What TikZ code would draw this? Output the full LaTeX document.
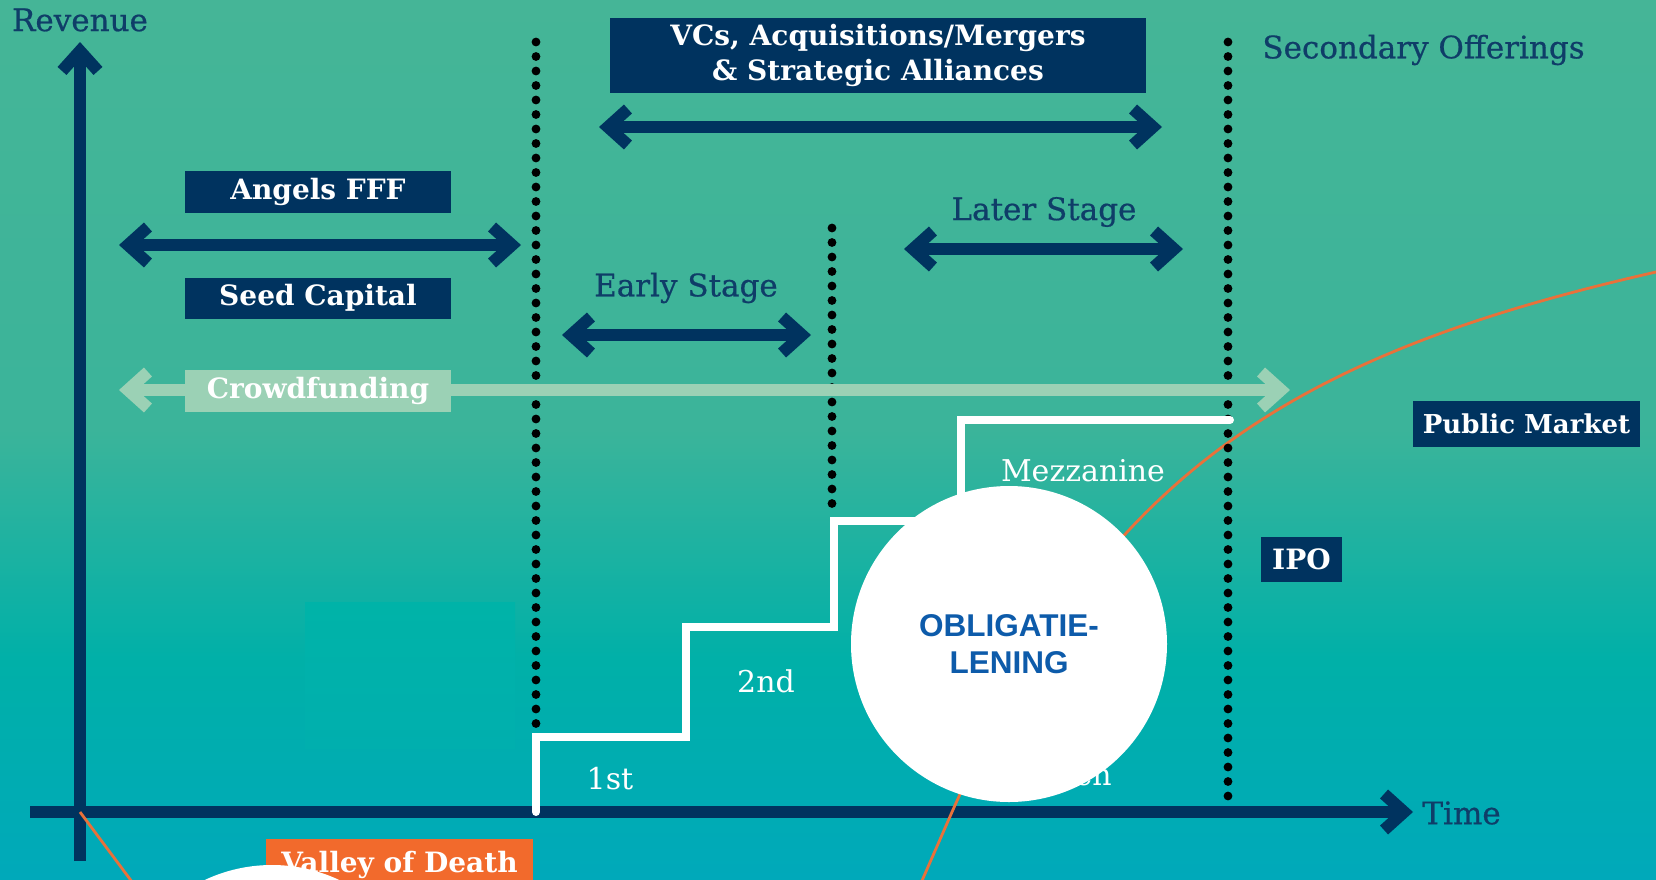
\documentclass[tikz,border=0pt]{standalone}
\usepackage{fontspec}
\setmainfont{DejaVu Serif}
\newfontfamily\oblfont{Liberation Sans}
\newfontfamily\lblfont[FakeBold=0.6]{DejaVu Serif}
\usetikzlibrary{arrows.meta}
\definecolor{navy}{HTML}{00335F}
\definecolor{labelnavy}{HTML}{0F3D68}
\definecolor{bgtop}{HTML}{45B597}
\definecolor{bgA}{HTML}{3BB49A}
\definecolor{bgteal}{HTML}{00B0A8}
\definecolor{bgbot}{HTML}{00A9BA}
\definecolor{faintT}{HTML}{00B3A8}
\definecolor{faintB}{HTML}{00AFAE}
\definecolor{orng}{HTML}{F26A2C}
\definecolor{curvecol}{HTML}{E9713A}
\definecolor{crowd}{HTML}{9BD1B5}
\definecolor{oblblue}{HTML}{0D5BAA}
\tikzset{
  navyarrow/.style={draw=navy, line width=6pt, <->},
  crowdarrow/.style={draw=crowd, line width=6pt, <->},
  axisline/.style={draw=navy, line width=6pt, ->},
  dotline/.style={draw=black, line width=4.4pt, line cap=round, dash pattern=on 0pt off 7.25pt},
  stairline/.style={draw=white, line width=4pt, line cap=round, line join=miter},
  curveline/.style={draw=curvecol, line width=1.4pt},
  navybox/.style={fill=navy, text=white, inner sep=0pt, font=\bfseries\fontsize{14}{17.5}\selectfont},
  crowdbox/.style={fill=crowd, text=white, inner sep=0pt, font=\bfseries\fontsize{14}{17.5}\selectfont},
  orangebox/.style={fill=orng, text=white, inner sep=0pt, font=\bfseries\fontsize{14}{17}\selectfont},
  lbl/.style={text=labelnavy, inner sep=0pt, font=\lblfont\fontsize{15.5}{18}\selectfont},
  steplbl/.style={text=white, inner sep=0pt, font=\fontsize{15}{18}\selectfont},
  whitecirc/.style={circle, fill=white, minimum size=158pt, inner sep=0pt}
}
\begin{document}
\begin{tikzpicture}[x=0.5pt, y=-0.5pt, >={Straight Barb[length=10pt,width=18pt]}]
\useasboundingbox (0,0) rectangle (1656,879);
\begin{scope}
\clip (0,0) rectangle (1656,879);
% background
\shade[top color=bgtop, bottom color=bgA] (0,0) rectangle (1656,431);
\shade[top color=bgA, bottom color=bgteal] (0,430) rectangle (1656,661);
\shade[top color=bgteal, bottom color=bgbot] (0,660) rectangle (1656,879);
\shade[top color=faintT, bottom color=faintB] (305,602) rectangle (515,748);

% axes
\coordinate (yb) at (80,861);
\coordinate (yt) at (80,42);
\coordinate (xl) at (30,812);
\coordinate (xr) at (1413,812);
\draw[axisline] (yb) -- (yt);
\draw[axisline] (xl) -- (xr);

% revenue curve
\coordinate (c0) at (80,812);
\coordinate (c1) at (150,906);
\coordinate (c2) at (900,931);
\coordinate (c3) at (952,812);
\coordinate (c4) at (1656,272);
\coordinate (c5) at (1700,262);
\draw[curveline] (c0) -- (c1);
\draw[curveline] (c2) -- (c3) .. controls (1100,478) and (1285,356) .. (c4) -- (c5);

% dotted lines
\coordinate (d1t) at (536,42);
\coordinate (d1b) at (536,728);
\coordinate (d2t) at (832,228);
\coordinate (d2b) at (832,510);
\coordinate (d3t) at (1228,42);
\coordinate (d3b) at (1228,800);
\draw[dotline] (d1t) -- (d1b);
\draw[dotline] (d2t) -- (d2b);
\draw[dotline] (d3t) -- (d3b);

% stairs
\draw[stairline] (536,812) -- (536,737) -- (686,737) -- (686,627) -- (834,627) -- (834,521) -- (961,521) -- (961,420) -- (1230,420);

% range arrows
\coordinate (a1) at (119,245);
\coordinate (a2) at (521,245);
\coordinate (v1) at (599,127);
\coordinate (v2) at (1162,127);
\coordinate (e1) at (562,335);
\coordinate (e2) at (811,335);
\coordinate (l1) at (904,249);
\coordinate (l2) at (1183,249);
\coordinate (cr1) at (119,390);
\coordinate (cr2) at (1290,390);
\draw[navyarrow] (a1) -- (a2);
\draw[navyarrow] (v1) -- (v2);
\draw[navyarrow] (e1) -- (e2);
\draw[navyarrow] (l1) -- (l2);
\draw[crowdarrow] (cr1) -- (cr2);

% boxes
\node[navybox, minimum width=133pt, minimum height=21pt] (angels) at (318,192) {Angels FFF};
\node[navybox, minimum width=133pt, minimum height=20.5pt] (seed) at (318,298) {Seed Capital};
\node[crowdbox, minimum width=133pt, minimum height=21pt] (crowdb) at (318,391) {Crowdfunding};
\node[navybox, minimum width=268pt, minimum height=37.5pt, align=center] (vcs) at (878,55.5) {VCs, Acquisitions/Mergers\\\& Strategic Alliances};
\node[navybox, minimum width=113.5pt, minimum height=23pt, font=\bfseries\fontsize{13}{16}\selectfont] (pm) at (1526.5,424) {Public Market};
\node[navybox, minimum width=40.5pt, minimum height=22.5pt] (ipo) at (1301.5,559.5) {IPO};
\node[orangebox, anchor=north, minimum width=133.5pt, minimum height=26pt] (valley) at (399.5,839) {Valley of Death};

% labels
\node[lbl] (rev) at (80,20) {Revenue};
\node[lbl] (early) at (686,288) {Early Stage};
\node[lbl] (later) at (1044,212) {Later Stage};
\node[lbl, anchor=west] (sec) at (1262,50) {Secondary Offerings};
\node[lbl, anchor=west] (time) at (1422,813) {Time};
\node[steplbl] (s1) at (610,779) {1st};
\node[steplbl] (s2) at (766,681) {2nd};
\node[steplbl] (mezz) at (1083,471) {Mezzanine};
\node[steplbl, anchor=east] (be) at (1112,778) {even};

% circles
\node[whitecirc, text=oblblue, align=center, font=\oblfont\bfseries\fontsize{15.75}{18.5}\selectfont] (obl) at (1009,644) {OBLIGATIE-\\LENING};
\node[whitecirc] (bcirc) at (272,1023) {};
\end{scope}
\end{tikzpicture}
\end{document}
